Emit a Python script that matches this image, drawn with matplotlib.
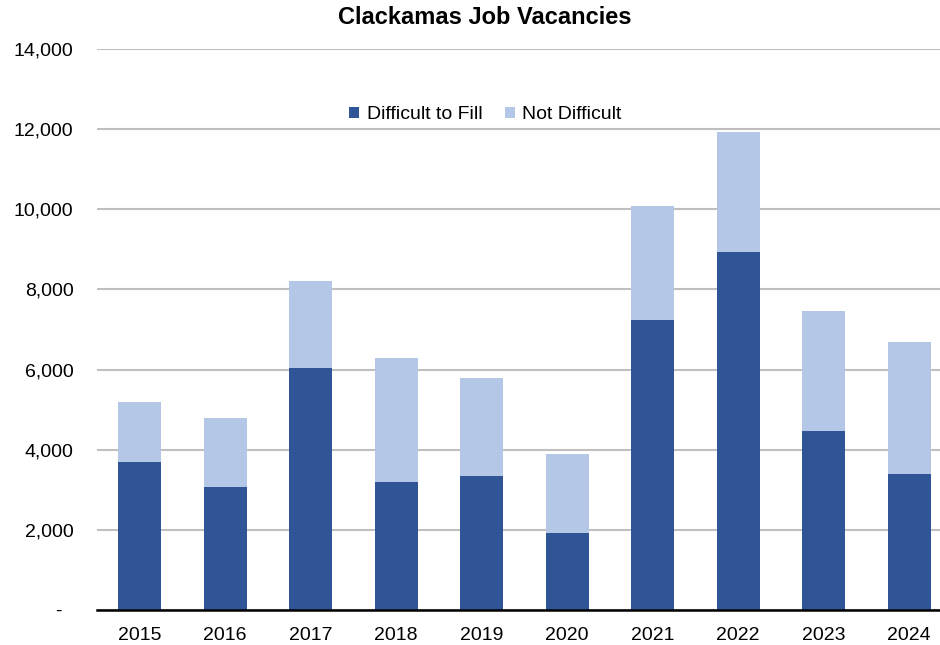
import matplotlib
matplotlib.use("Agg")
import matplotlib.pyplot as plt
import matplotlib.ticker as mticker
import numpy as np

plt.rcParams["font.family"] = ["Liberation Sans", "DejaVu Sans"]

anos = ["2015", "2016", "2017", "2018", "2019", "2020", "2021", "2022", "2023", "2024"]
dificil = [3700, 3060, 6030, 3190, 3350, 1910, 7240, 8940, 4470, 3400]
nao_dificil = [1480, 1730, 2190, 3100, 2430, 1990, 2840, 2990, 3000, 3290]

COR_ESCURA = "#2F5597"
COR_CLARA = "#B4C7E7"


def _rotulo_y(v, pos):
    if v == 0:
        return "-  "
    return f"{int(v):,}"


fig = plt.figure(figsize=(9.4, 6.45), dpi=100)
ax = fig.add_axes([97 / 940, 35 / 645, 843 / 940, 561 / 645])

x = np.arange(len(anos))
ax.bar(x, dificil, 0.5, color=COR_ESCURA, label="Difficult to Fill", zorder=3)
ax.bar(x, nao_dificil, 0.5, bottom=dificil, color=COR_CLARA, label="Not Difficult", zorder=3)

ax.set_ylim(0, 14000)
ax.set_xlim(-0.5, 9.36)
ax.yaxis.set_major_locator(mticker.MultipleLocator(2000))
ax.yaxis.set_major_formatter(mticker.FuncFormatter(_rotulo_y))
ax.set_xticks(x)
ax.set_xticklabels(anos)
ax.tick_params(axis="both", length=0, labelsize=14)
ax.tick_params(axis="y", pad=17)
ax.tick_params(axis="x", pad=12)

ax.grid(axis="y", color="#BFBFBF", linewidth=1.5, zorder=0)
ax.set_axisbelow(True)
for lado in ["top", "right", "left"]:
    ax.spines[lado].set_visible(False)
ax.spines["bottom"].set_color("black")
ax.spines["bottom"].set_linewidth(1.8)
ax.spines["bottom"].set_zorder(4)

ax.legend(loc="center", bbox_to_anchor=(0.461, 0.883), ncol=2, frameon=False,
          fontsize=14, handlelength=0.5, handleheight=0.5, handletextpad=0.4,
          columnspacing=1.15)

fig.text(485 / 940, 1 - 18 / 645, "Clackamas Job Vacancies", ha="center", va="center",
         fontsize=17, fontweight="bold")

fig.savefig("out.png", dpi=100)
